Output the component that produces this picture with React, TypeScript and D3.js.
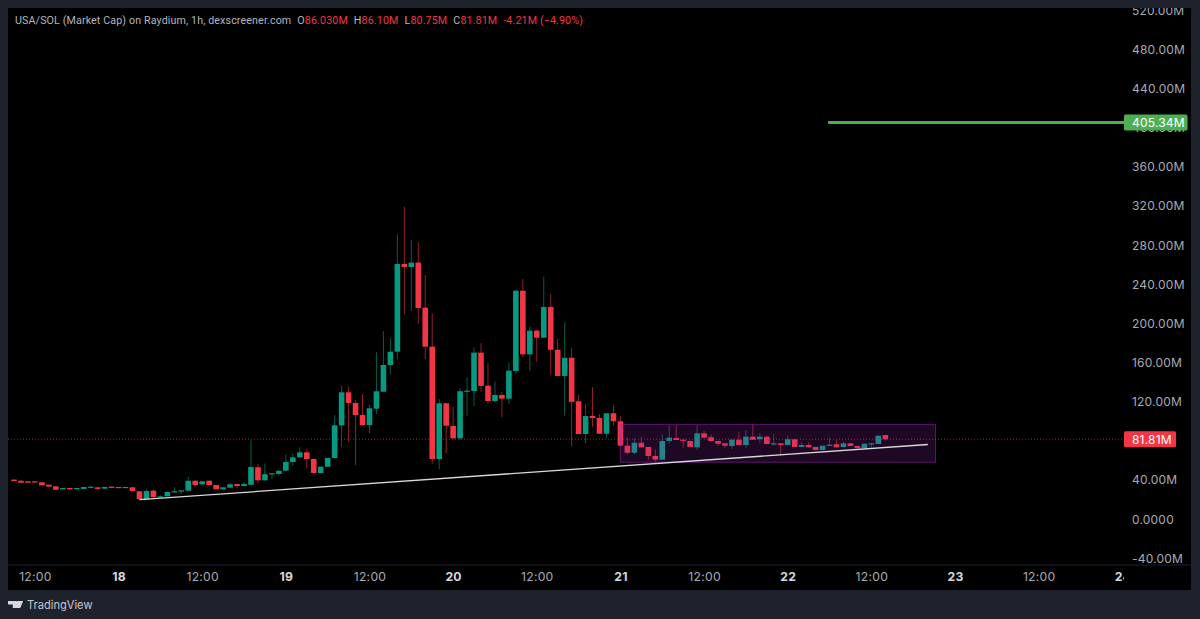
import { useEffect, useRef } from 'react';
import * as d3 from 'd3';

// Hours counted from the 17th 00:00, the first candle is 09:00
const firstHour = 9;

// Candles in millions, 1h
const opens = [40.5,39.4,38.8,38.8,37.8,35.3,33.7,30.6,32,31,31,32.3,32.7,31.3,33.3,33,32.3,32.7,28.6,20.4,29.2,22.8,23.5,27.6,28.9,29.2,39.4,35.8,39.4,35,30.6,32.3,36,34,35.3,53.1,39.8,46,46.3,49.6,58.5,63.3,68.4,61.6,47.3,53.7,62.6,96,129.7,118.8,106.5,96.3,113,130.3,157.6,171.2,260.8,257.7,262.2,216.2,176.3,61.6,118.5,95.3,82.7,130.3,131,170.2,136.5,120.8,127,123.2,151.5,233.5,168.5,192.7,185.5,216.9,173.2,146.4,165,120.5,87.1,105.5,103.5,87.4,108.3,100.1,75.2,68,78.2,73.9,64.7,60.9,80,83,81.3,80,73.5,87.8,83.8,80,77.6,74.9,81.3,75.9,84.4,82,84.4,76.6,77.6,75.9,81.7,73.9,75.9,73.9,70.8,75.2,76.6,73.9,77.6,74.9,72.8,76.6,76.9,86.03];
const highs = [41,39.8,39,39,38,35.5,34,32.2,32.2,32.2,33.2,34.5,33,33.2,33.6,33.2,33.2,33,28.8,30.6,30.6,24.5,28,32.9,29.8,43.5,39.6,39,39.6,35.2,32.9,37.5,36.2,38,81.2,56.6,56.9,47.2,49.8,66,67,73.5,71.5,61.8,53.9,62.8,106.4,136.5,135.4,121.9,128,116.8,170.6,192,184.9,291.1,319.3,285.3,283,249.5,210.4,122.6,118.7,115,133.8,145,175.7,179.8,159.4,140.6,130.3,160,234.5,245.2,196.7,194,247.8,230,184.2,201.2,175.3,127,117.5,135.1,107.6,108.5,116.8,105.5,83.4,82.7,84.4,74.1,71.5,86.8,95.6,96.3,81.5,80.2,96.3,90.2,86.8,80.2,77.8,81.5,88.9,91.2,97,87.8,84.6,87.1,77.8,85.4,81.9,78.2,78.7,74.1,75.4,83.4,81,79.3,77.8,75.1,77.4,77.8,85.6,86.1];
const lows = [38.8,37.2,37.2,37.4,34.5,33,30,30.4,30.4,30.8,30.8,31.5,30.8,31,31.8,32,32,28.7,20.4,20.2,22,22.5,23.3,27.3,26,29,33,35.6,34.8,30.4,30.4,32,32,33.8,35,36.8,39.6,41.5,44.5,49.4,54.4,63,52,47,47,53.4,62.4,74.2,79.3,55.5,95.3,87.8,107.6,130,148,163.4,209.4,212.8,199.5,163.4,56.5,51,67.4,82.5,81,105.8,115.7,130.3,117.8,119.8,104.2,117.8,148.4,165.5,151.8,161,185,148,146.2,105.8,74.9,87,77.6,94.6,87.2,83.4,95.6,75,66.4,66.4,73.3,60.6,58.2,60.7,77.6,80.8,73.1,73.7,70.8,83.2,79.8,74.9,72.5,71.8,75.7,72.5,81.1,77.6,76.7,75.2,65,75.7,73.7,73.7,73.3,70.6,70.6,75,73.3,73.7,74.7,72.6,72.6,73.5,76.7,80.75];
const closes = [39.1,37.4,37.4,37.6,34.7,33.3,30.2,32,30.6,32,33,33.3,31,33,32,32.3,33,28.9,20.7,28.9,22.8,23.5,27.9,28.6,29.6,39.4,35,38.8,35,30.6,32.7,35.8,34,36,53.4,39.8,46,47,49.6,58.5,63.3,68.4,61.6,47.3,53.7,62.6,96,129.7,118.8,106.5,96.3,113.4,130.8,157.6,171.2,260.8,257.7,262.2,215.8,176.3,61.6,118.5,95.6,82.7,130.8,131.4,170.2,136.2,120.8,127,123.2,151.8,233.5,168.5,192.7,185.5,216.9,173.2,146.4,165,120,87.1,105.5,103.5,87.4,108.3,100.1,75.2,68,78.2,73.5,64.7,60.9,80,83.4,81,80.3,73.9,87.8,83.4,80,77.2,75.2,81.3,75.9,84.4,81.3,84.4,76.9,77.6,75.9,81.7,73.9,75.9,73.5,70.8,75.2,76.2,73.5,77.6,74.9,72.8,77.2,77.6,85.4,81.81];

// Price axis, the 80M tick sits behind the last price label
const priceTicks = [-40,0,40,120,160,200,240,280,320,360,400,440,480,520];

// Time axis
const timeTicks = [12,24,36,48,60,72,84,96,108,120,132,144,156,168];
const timeLabels = ['12:00','18','12:00','19','12:00','20','12:00','21','12:00','22','12:00','23','12:00','24'];

// Drawings: [hour, value]
const lastPrice = 81.81;
const targetPrice = 405.34;
const targetStartHour = 125.8;
const trendLine: [number, number][] = [[27, 20], [140.1, 76.4]];
const boxHours = [96, 141.2];
const boxValues = [58.3, 97];

const header = 'USA/SOL (Market Cap) on Raydium, 1h, dexscreener.com';
const ohlc = [
  ['O', '86.030M'],
  ['H', '86.10M'],
  ['L', '80.75M'],
  ['C', '81.81M'],
];
const change = '-4.21M (\u22124.90%)';

const font = 'Inter, "Noto Sans", sans-serif';
const upColor = '#089981';
const downColor = '#f23645';
const greenLabel = '#4caf50';

function App() {
  const ref = useRef(null);

  useEffect(() => {
    const svg = d3.select(ref.current);
    svg.selectAll('*').remove();

    const x = d3.scaleLinear().domain([firstHour, firstHour + 125]).range([14, 885.3]);
    const y = d3.scaleLinear().domain([0, 520]).range([519.3, 10.2]);

    // Panels
    svg.append('rect').attr('width', 1200).attr('height', 619).attr('fill', '#1e222d');
    svg.append('rect').attr('x', 8).attr('y', 8).attr('width', 1183).attr('height', 582).attr('fill', '#000');

    const defs = svg.append('defs');
    defs.append('clipPath').attr('id', 'panel').append('rect').attr('x', 8).attr('y', 8).attr('width', 1183).attr('height', 557);
    defs.append('clipPath').attr('id', 'times').append('rect').attr('x', 8).attr('y', 565).attr('width', 1116).attr('height', 25);

    // Last price line
    svg.append('line')
      .attr('x1', 8).attr('x2', 1124)
      .attr('y1', y(lastPrice)).attr('y2', y(lastPrice))
      .attr('stroke', downColor).attr('stroke-opacity', 0.7)
      .attr('stroke-dasharray', '1 2');

    // Candles
    const candles = d3.range(opens.length).map((i) => ({
      hour: firstHour + i,
      open: opens[i],
      high: highs[i],
      low: lows[i],
      close: closes[i],
    }));
    const color = (d: any) => (d.close >= d.open ? upColor : downColor);

    const g = svg.append('g').attr('clip-path', 'url(#panel)');
    const candle = g.selectAll('g').data(candles).enter().append('g');
    candle.append('line')
      .attr('x1', (d) => x(d.hour)).attr('x2', (d) => x(d.hour))
      .attr('y1', (d) => y(d.high)).attr('y2', (d) => y(d.low))
      .attr('stroke', color).attr('stroke-opacity', 0.6).attr('stroke-width', 1);
    candle.append('rect')
      .attr('x', (d) => x(d.hour) - 2.8)
      .attr('width', 5.6)
      .attr('y', (d) => y(Math.max(d.open, d.close)))
      .attr('height', (d) => Math.max(1.2, Math.abs(y(d.open) - y(d.close))))
      .attr('fill', color);

    // Box over the range
    svg.append('rect')
      .attr('x', x(boxHours[0])).attr('width', x(boxHours[1]) - x(boxHours[0]))
      .attr('y', y(boxValues[1])).attr('height', y(boxValues[0]) - y(boxValues[1]))
      .attr('fill', '#9c27b0').attr('fill-opacity', 0.2)
      .attr('stroke', '#9c27b0').attr('stroke-opacity', 0.55);

    // Trend line and target line
    const line = d3.line<[number, number]>().x((d) => x(d[0])).y((d) => y(d[1]));
    svg.append('path').attr('d', line(trendLine)).attr('fill', 'none').attr('stroke', '#d8d8dc').attr('stroke-width', 1.3);
    svg.append('line')
      .attr('x1', x(targetStartHour)).attr('x2', 1124)
      .attr('y1', y(targetPrice)).attr('y2', y(targetPrice))
      .attr('stroke', greenLabel).attr('stroke-width', 3);

    // Price axis
    const priceAxis = d3.axisRight(y)
      .tickValues(priceTicks)
      .tickSize(0)
      .tickPadding(0)
      .tickFormat((d: any) => (d === 0 ? '0.0000' : `${d < 0 ? '-' : ''}${Math.abs(d).toFixed(2)}M`));
    const pa = svg.append('g')
      .attr('clip-path', 'url(#panel)')
      .append('g')
      .attr('transform', 'translate(1132,0)')
      .call(priceAxis as any);
    pa.select('.domain').remove();
    pa.selectAll('text').attr('font-family', font).attr('font-size', 12).attr('fill', '#a8abb3').attr('letter-spacing', 0.2);

    // Time axis
    svg.append('line').attr('x1', 8).attr('x2', 1191).attr('y1', 565).attr('y2', 565).attr('stroke', '#1e222d');
    const timeAxis = d3.axisBottom(x)
      .tickValues(timeTicks)
      .tickSize(0)
      .tickPadding(0)
      .tickFormat((_, i) => timeLabels[i]);
    const ta = svg.append('g')
      .attr('clip-path', 'url(#times)')
      .append('g')
      .attr('transform', 'translate(0,572)')
      .call(timeAxis as any);
    ta.select('.domain').remove();
    ta.selectAll('text')
      .attr('font-family', font).attr('font-size', 12.2)
      .attr('font-weight', (_, i) => (i % 2 ? 700 : 400))
      .attr('fill', (_, i) => (i % 2 ? '#d6d8dd' : '#a8abb3'))
      .attr('letter-spacing', 0.25);

    // Price labels
    const labels = [
      { value: targetPrice, text: '405.34M', fill: greenLabel, width: 63.5 },
      { value: lastPrice, text: '81.81M', fill: downColor, width: 52 },
    ];
    labels.forEach((l) => {
      svg.append('rect')
        .attr('x', 1124).attr('y', y(l.value) - 8)
        .attr('width', l.width).attr('height', 16)
        .attr('rx', 1.5).attr('fill', l.fill);
      svg.append('text')
        .attr('x', 1132).attr('y', y(l.value)).attr('dy', '0.36em')
        .attr('font-family', font).attr('font-size', 12)
        .attr('letter-spacing', 0.2)
        .attr('fill', '#fff').text(l.text);
    });

    // Legend line
    const legend = svg.append('text')
      .attr('x', 15).attr('y', 24)
      .attr('font-family', 'Roboto, Inter, sans-serif').attr('font-size', 10.7)
      .attr('letter-spacing', 0.12)
      .attr('fill', '#b2b5be');
    legend.append('tspan').text(header);
    ohlc.forEach(([k, v]) => {
      legend.append('tspan').attr('dx', 6).text(k);
      legend.append('tspan').attr('fill', downColor).text(v);
    });
    legend.append('tspan').attr('dx', 6).attr('fill', downColor).text(change);

    // TradingView mark
    svg.append('path')
      .attr('d', 'M8 601h8.4v7h-3.6v-3.6H8zM17.2 601h6l-3 7h-4.4zM16 602.6a1.5 1.5 0 1 1 0 .01z')
      .attr('fill', '#d6d8dd');
    svg.append('text')
      .attr('x', 27).attr('y', 609)
      .attr('font-family', font).attr('font-size', 11.1)
      .attr('fill', '#c4c7ce').text('TradingView');
  }, []);

  return <svg ref={ref} width={1200} height={619} style={{ position: 'absolute', left: 0, top: 0 }} />;
}

export default App;
